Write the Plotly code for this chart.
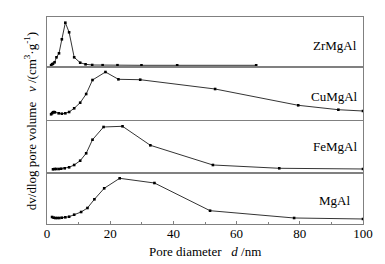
import plotly.graph_objects as go

# ZrMgAl
zr_x = [1.3, 1.6, 1.9, 2.4, 3.0, 3.8, 4.7, 5.8, 7.0, 8.6, 10.5, 12.2, 14.3, 17.6, 22.3, 29.9, 41.2, 66.2]
zr_y = [0.2, 1.2, 1.8, 3.2, 8.2, 12.2, 26.2, 42.8, 33.2, 8.2, 2.8, 1.2, 0.5, 0.3, 0.3, 0.2, 0.2, 0.2]
# CuMgAl
cu_x = [1.3, 1.6, 1.9, 2.2, 2.5, 3.7, 4.7, 5.8, 7.0, 8.6, 10.5, 12.4, 14.4, 18.5, 22.6, 29.5, 53.2, 79.5, 92.2, 100.0]
cu_y = [5.7, 6.7, 7.7, 8.0, 7.7, 6.7, 6.3, 6.7, 8.0, 11.7, 17.3, 26.0, 40.0, 48.0, 40.7, 40.3, 31.0, 14.7, 10.3, 9.0]
# FeMgAl
fe_x = [1.9, 2.4, 2.9, 3.7, 4.5, 5.6, 7.0, 8.6, 10.5, 12.4, 14.4, 17.9, 23.9, 32.7, 52.5, 73.5, 100.0]
fe_y = [2.7, 3.0, 3.0, 3.0, 3.3, 3.7, 4.7, 7.0, 11.3, 18.7, 32.3, 45.0, 45.7, 26.7, 7.0, 3.7, 3.0]
# MgAl
mg_x = [1.6, 2.1, 2.6, 3.2, 3.9, 4.7, 5.8, 7.0, 8.6, 10.8, 12.8, 15.0, 18.1, 23.0, 34.0, 51.6, 78.2, 100.0]
mg_y = [7.0, 6.3, 6.0, 6.0, 6.0, 6.3, 6.7, 7.3, 9.3, 12.0, 16.0, 24.7, 35.7, 45.7, 41.0, 13.3, 6.0, 5.0]

names = ["ZrMgAl", "CuMgAl", "FeMgAl", "MgAl"]
xs = [zr_x, cu_x, fe_x, mg_x]
ys = [zr_y, cu_y, fe_y, mg_y]
yranges = [[-0.5, 48.5], [0, 52], [0, 51], [0, 50]]
domains = [[0.7633, 1.0], [0.5024, 0.7536], [0.2512, 0.4976], [0.0, 0.2415]]
label_y = [20, 24, 25, 23]

FONT = "Liberation Serif, Times New Roman, serif"
AX = "#808080"

fig = go.Figure()
for i in range(4):
    xa = "x" if i == 0 else f"x{i+1}"
    ya = "y" if i == 0 else f"y{i+1}"
    fig.add_trace(go.Scatter(x=xs[i], y=ys[i], mode="lines+markers",
                             line=dict(color="black", width=0.8),
                             marker=dict(symbol="square", size=2.6, color="black"),
                             xaxis=xa, yaxis=ya, showlegend=False, cliponaxis=True))
    bottom = (i == 3)
    xkey = "xaxis" if i == 0 else f"xaxis{i+1}"
    ykey = "yaxis" if i == 0 else f"yaxis{i+1}"
    xdict = dict(domain=[0, 1], range=[0, 100], anchor=ya,
                 showline=True, mirror=True, linecolor=AX, linewidth=1,
                 showgrid=False, zeroline=False,
                 ticks="inside" if bottom else "", tickcolor=AX, ticklen=3,
                 tick0=0, dtick=20, showticklabels=bottom,
                 tickfont=dict(family=FONT, size=13, color="black"))
    if bottom:
        xdict["minor"] = dict(ticks="inside", dtick=10, ticklen=2, tickcolor=AX)
        xdict["ticklabelstandoff"] = -3
    fig.layout[xkey] = xdict
    fig.layout[ykey] = dict(domain=domains[i], range=yranges[i], anchor=xa,
                            showline=True, mirror=True, linecolor=AX, linewidth=1,
                            showgrid=False, zeroline=False, showticklabels=False, ticks="")
    fig.add_annotation(x=91, y=label_y[i], xref=xa, yref=ya, text=names[i],
                       showarrow=False, font=dict(family=FONT, size=13, color="black"),
                       xanchor="center", yanchor="middle")

fig.add_annotation(x=0.5, y=-0.135, xref="paper", yref="paper",
                   text="Pore diameter   <i>d</i> /nm", showarrow=False,
                   font=dict(family=FONT, size=13, color="black"), yanchor="middle")
fig.add_annotation(x=-0.085, y=0.4976, xref="paper", yref="paper",
                   text="dv/dlog pore volume   <i>v</i> /(cm<sup>3</sup>·g<sup>-1</sup>)",
                   textangle=-90, showarrow=False,
                   font=dict(family=FONT, size=13, color="black"))

fig.update_layout(width=385, height=264, margin=dict(l=47, r=22, t=17, b=40),
                  plot_bgcolor="white", paper_bgcolor="white")
fig.write_html("out.html", config={"displayModeBar": False},
               post_script="document.body.style.margin='0';")
